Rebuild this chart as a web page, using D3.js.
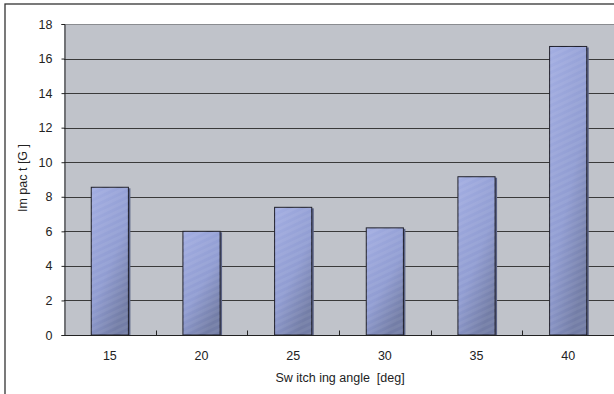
<!DOCTYPE html>
<html><head><meta charset="utf-8">
<script src="https://cdn.jsdelivr.net/npm/d3@7"></script>
<style>body{margin:0;background:#fff}svg{display:block}text{font-family:"Liberation Sans",Arial,sans-serif;fill:#222}</style>
</head><body>
<script>
const categories = ["15","20","25","30","35","40"];
const values = [8.55, 6.0, 7.39, 6.2, 9.16, 16.7];
const yTicks = [0,2,4,6,8,10,12,14,16,18];
const xTitle = "Sw itch ing angle  [deg]";
const yTitle = "Im pac t [G ]";

const W=614,H=394;
const m={left:64,top:24,right:0,bottom:59};
const FS=12.5;
const svg=d3.select("body").append("svg").attr("width",W).attr("height",H);
const defs=svg.append("defs");
const g1=defs.append("linearGradient").attr("id","bar").attr("x1","0").attr("y1","0").attr("x2","0.6").attr("y2","1");
g1.append("stop").attr("offset","0").attr("stop-color","#a3aee2");
g1.append("stop").attr("offset","0.6").attr("stop-color","#919dd2");
g1.append("stop").attr("offset","1").attr("stop-color","#737da6");
const pat=defs.append("pattern").attr("id","stripes").attr("width",6).attr("height",6)
  .attr("patternUnits","userSpaceOnUse").attr("patternTransform","rotate(-25)");
pat.append("rect").attr("width",6).attr("height",3).attr("fill","#ffffff").attr("opacity",0.06);

// outer frame
svg.append("rect").attr("x",5).attr("y",4).attr("width",W+10).attr("height",H+10)
  .attr("fill","none").attr("stroke","#333").attr("stroke-width",1.3);

const x=d3.scaleBand().domain(categories).range([m.left,W-m.right]).paddingInner(0).paddingOuter(0);
const y=d3.scaleLinear().domain([0,18]).range([H-m.bottom,m.top]);

svg.append("rect").attr("x",m.left).attr("y",m.top).attr("width",W-m.left-m.right).attr("height",y(0)-m.top)
  .attr("fill","#c0c3ca");

// grid
svg.append("g").selectAll("line").data(yTicks.filter(d=>d>0)).join("line")
  .attr("x1",m.left).attr("x2",W).attr("y1",d=>Math.round(y(d))+0.5).attr("y2",d=>Math.round(y(d))+0.5)
  .attr("stroke",d=>d===18?"#8a8c90":"#3a3a3a").attr("stroke-width",1);

// bars
const bw=x.bandwidth()*0.405;
const bars=svg.append("g").selectAll("g").data(values).join("g");
bars.append("rect").attr("x",(d,i)=>x(categories[i])+x.bandwidth()/2-bw/2+2).attr("y",d=>y(d)+1)
  .attr("width",bw).attr("height",d=>y(0)-y(d)-1).attr("fill","#5a6284");
bars.append("rect").attr("x",(d,i)=>x(categories[i])+x.bandwidth()/2-bw/2).attr("y",d=>y(d))
  .attr("width",bw).attr("height",d=>y(0)-y(d)).attr("fill","url(#bar)").attr("stroke","#1e1e28").attr("stroke-width",1);
bars.append("rect").attr("x",(d,i)=>x(categories[i])+x.bandwidth()/2-bw/2).attr("y",d=>y(d))
  .attr("width",bw).attr("height",d=>y(0)-y(d)).attr("fill","url(#stripes)");

// y axis
const ya=svg.append("g").attr("transform",`translate(${m.left+0.5},0)`)
  .call(d3.axisLeft(y).tickValues(yTicks).tickSize(3).tickPadding(9).tickFormat(d3.format("d")));
ya.select(".domain").attr("stroke","#222");
ya.selectAll(".tick line").attr("stroke","#222");
ya.selectAll("text").attr("font-size",FS).attr("fill","#222");

// x axis
const xa=svg.append("g").attr("transform",`translate(0,${Math.round(y(0))+0.5})`);
xa.append("line").attr("x1",m.left).attr("x2",W).attr("stroke","#222");
xa.selectAll("line.t").data(categories.slice(1)).join("line").attr("class","t")
  .attr("x1",d=>Math.round(x(d))+0.5).attr("x2",d=>Math.round(x(d))+0.5).attr("y1",0).attr("y2",-5).attr("stroke","#222");
xa.selectAll("text").data(categories).join("text")
  .attr("x",d=>x(d)+x.bandwidth()/2).attr("y",24).attr("text-anchor","middle").attr("font-size",FS).text(d=>d);

svg.append("text").attr("x",340).attr("y",382).attr("text-anchor","middle").attr("font-size",FS)
  .style("white-space","pre").text(xTitle);
svg.append("text").attr("transform","translate(27,178) rotate(-90)").attr("text-anchor","middle").attr("font-size",FS)
  .style("white-space","pre").text(yTitle);
</script>
</body></html>
